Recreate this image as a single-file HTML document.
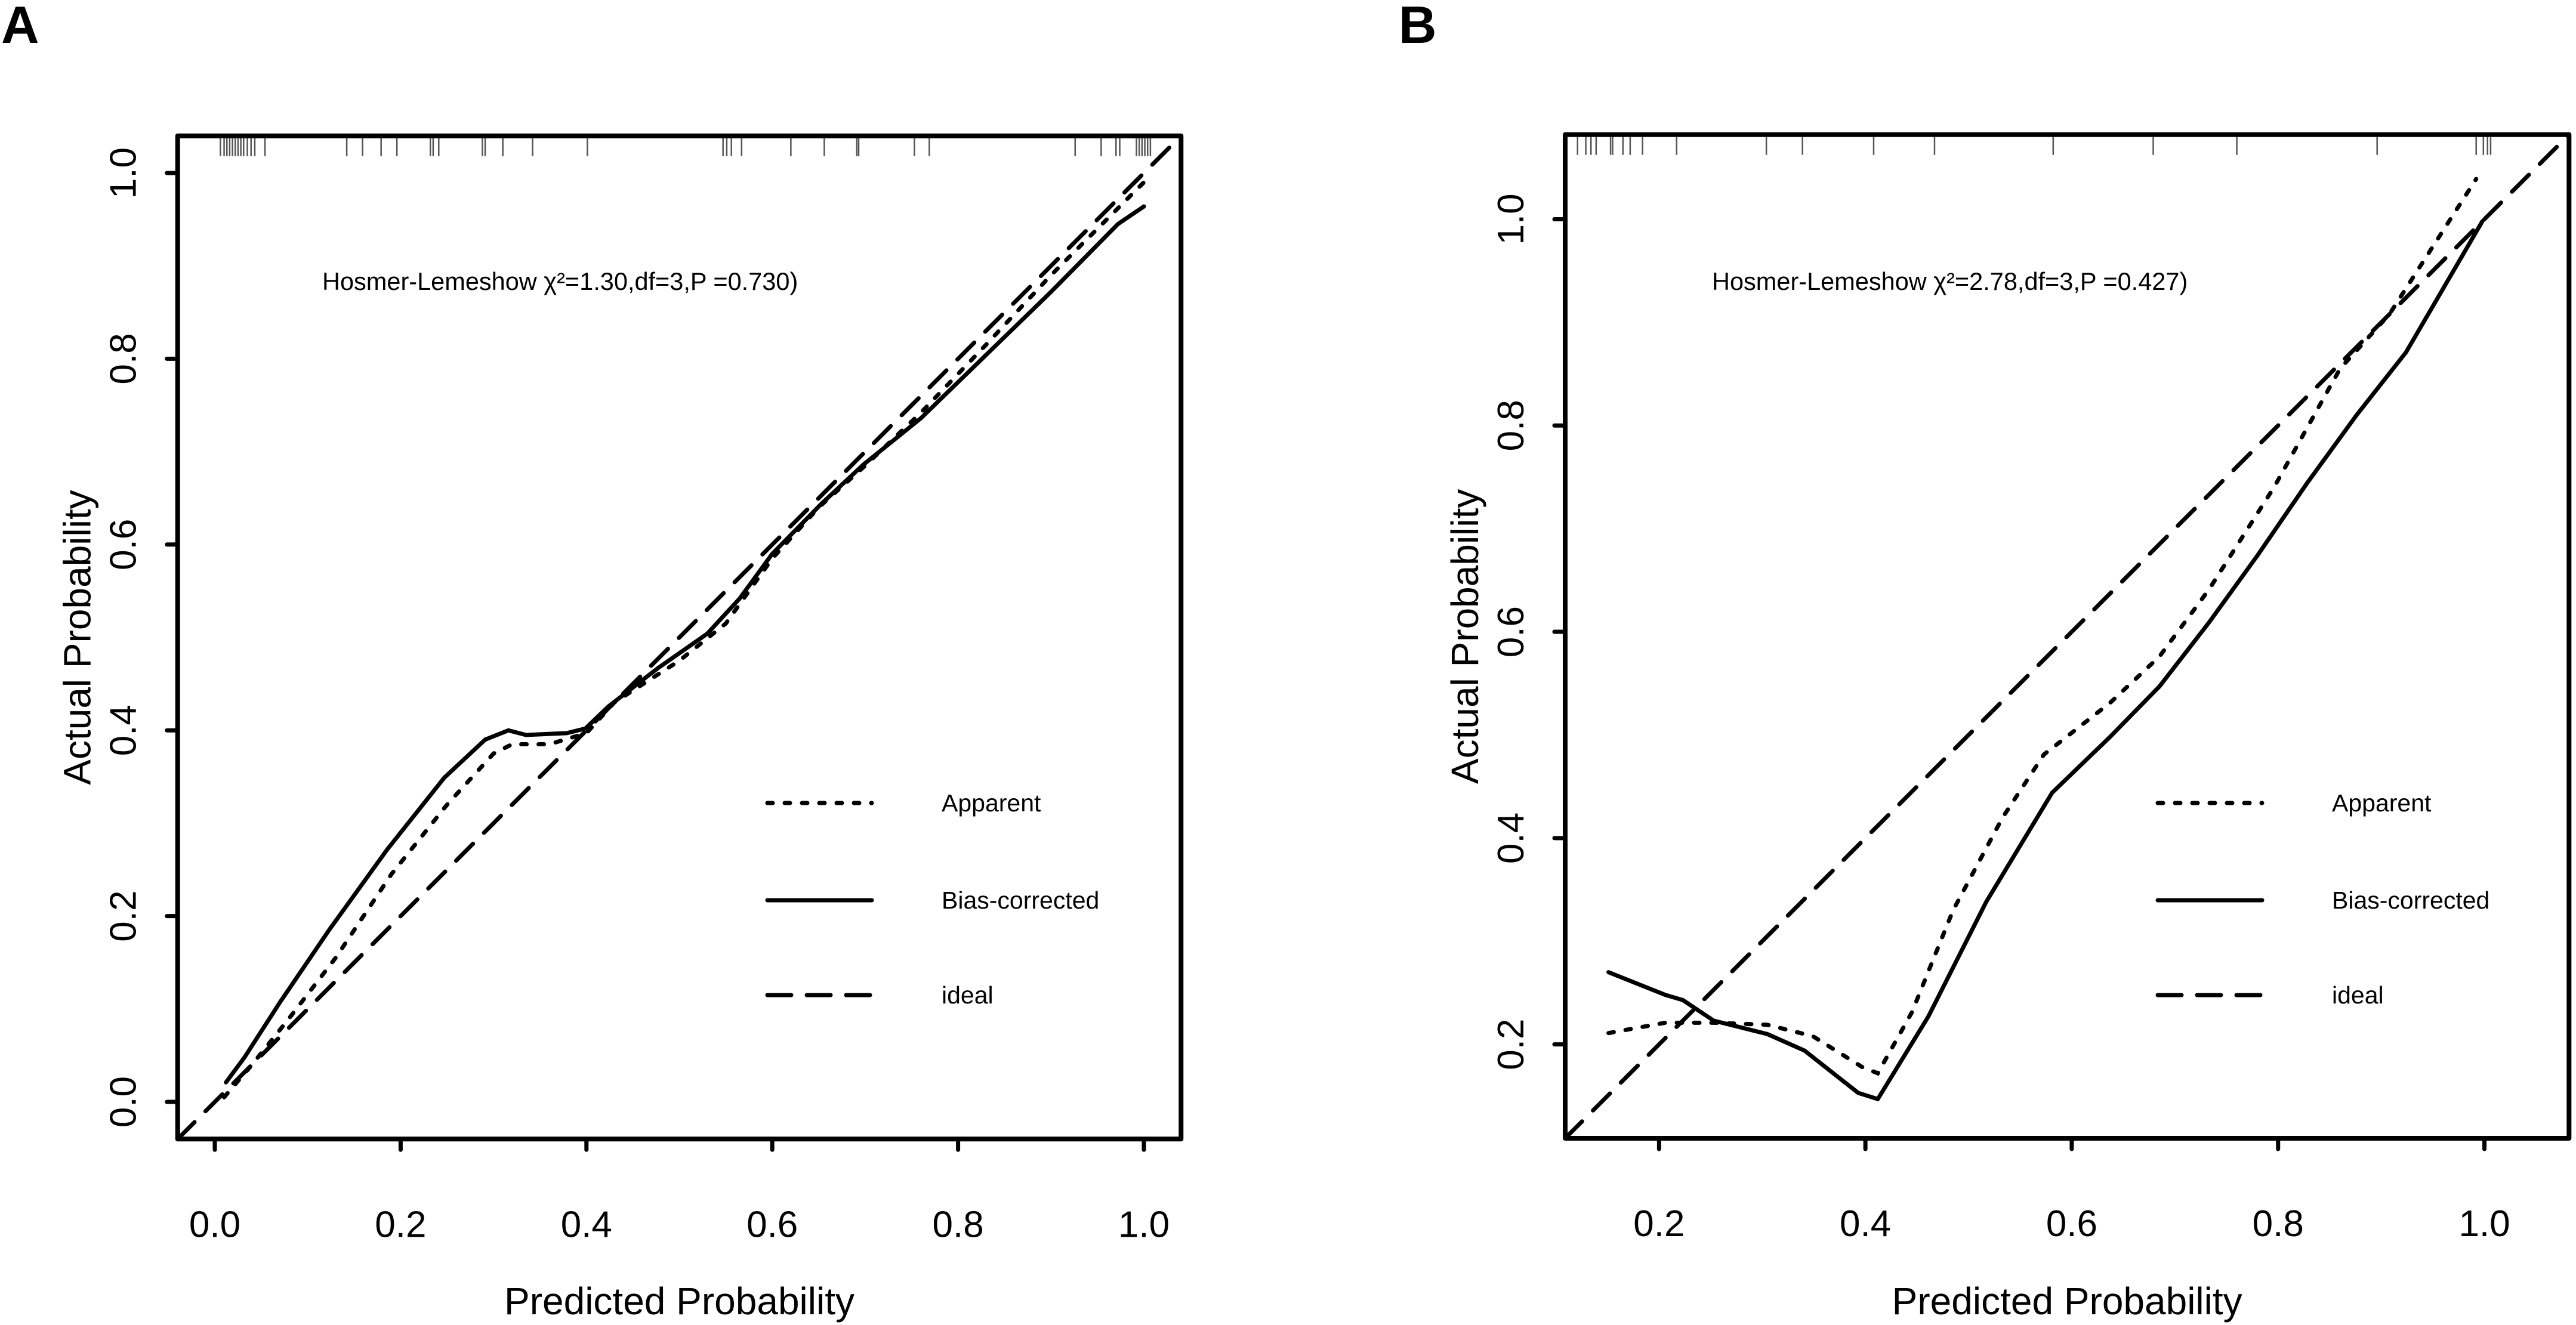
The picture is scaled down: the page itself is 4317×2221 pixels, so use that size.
<!DOCTYPE html>
<html><head><meta charset="utf-8"><style>
html,body{margin:0;padding:0;background:#fff;}
svg{display:block;font-family:"Liberation Sans",sans-serif;}
</style></head><body>
<svg id="fig" xmlns="http://www.w3.org/2000/svg" width="4317" height="2221" viewBox="0 0 4317 2221">
<text x="2" y="72" font-size="88" font-weight="bold">A</text>
<text x="2344" y="72" font-size="88" font-weight="bold">B</text>
<g id="panelA"></g>
<g id="panelB"></g>
</svg>
<script>
// Panel A data
const aTicks = [0.0, 0.2, 0.4, 0.6, 0.8, 1.0];
const aTickLabels = ["0.0", "0.2", "0.4", "0.6", "0.8", "1.0"];
const aRug = [0.006,0.01,0.013,0.016,0.019,0.022,0.025,0.028,0.031,0.035,0.039,0.043,0.054,0.142,0.159,0.179,0.196,0.232,0.235,0.241,0.288,0.291,0.310,0.342,0.401,0.547,0.551,0.556,0.567,0.620,0.656,0.691,0.693,0.753,0.769,0.926,0.954,0.970,0.974,0.992,0.995,0.998,1.001,1.004,1.007];
const aBiasX = [0.012,0.032,0.07,0.123,0.185,0.247,0.291,0.316,0.335,0.379,0.399,0.424,0.477,0.53,0.565,0.6,0.653,0.698,0.76,0.83,0.9,0.972,1.0];
const aBiasY = [0.021,0.048,0.107,0.185,0.271,0.349,0.39,0.40,0.395,0.397,0.402,0.426,0.467,0.504,0.542,0.59,0.644,0.686,0.736,0.804,0.872,0.945,0.964];
const aAppX = [0.01,0.04,0.08,0.13,0.19,0.25,0.3,0.32,0.36,0.4,0.43,0.5,0.55,0.6,0.65,0.7,0.76,0.83,0.9,0.97,1.0];
const aAppY = [0.005,0.04,0.09,0.155,0.245,0.32,0.375,0.385,0.385,0.397,0.43,0.475,0.515,0.585,0.64,0.685,0.742,0.815,0.89,0.96,0.99];
const aStat = "Hosmer-Lemeshow χ²=1.30,df=3,P =0.730)";
// Panel B data
const bTicks = [0.2, 0.4, 0.6, 0.8, 1.0];
const bTickLabels = ["0.2", "0.4", "0.6", "0.8", "1.0"];
const bRug = [0.121,0.129,0.134,0.139,0.153,0.155,0.165,0.172,0.184,0.217,0.304,0.339,0.408,0.467,0.582,0.679,0.760,0.896,0.992,0.999,1.003,1.006];
const bBiasX = [0.151,0.206,0.223,0.253,0.305,0.341,0.393,0.412,0.461,0.517,0.581,0.637,0.685,0.733,0.780,0.828,0.876,0.924,0.998];
const bBiasY = [0.270,0.248,0.243,0.223,0.210,0.194,0.153,0.147,0.227,0.338,0.444,0.498,0.547,0.609,0.674,0.744,0.810,0.871,0.998];
const bAppX = [0.151,0.206,0.253,0.305,0.349,0.397,0.412,0.445,0.485,0.533,0.573,0.637,0.685,0.733,0.796,0.860,0.908,0.992];
const bAppY = [0.211,0.221,0.221,0.219,0.208,0.178,0.172,0.231,0.330,0.420,0.481,0.531,0.576,0.641,0.740,0.855,0.908,1.039];
const bStat = "Hosmer-Lemeshow χ²=2.78,df=3,P =0.427)";

const NS = "http://www.w3.org/2000/svg";
function mk(parent, tag, attrs) {
  const e = document.createElementNS(NS, tag);
  for (const k in attrs) e.setAttribute(k, attrs[k]);
  parent.appendChild(e);
  return e;
}

function drawPanel(g, cfg) {
  const sx = v => cfg.x0 + (v - cfg.min) * cfg.scale;
  const sy = v => cfg.yb - (v - cfg.min) * cfg.scale;
  const L = sx(cfg.min), R = sx(cfg.max), T = sy(cfg.max), B = sy(cfg.min);
  const clipId = "clip" + cfg.id;
  const defs = mk(g, "defs", {});
  const cp = mk(defs, "clipPath", {id: clipId});
  mk(cp, "rect", {x: L, y: T, width: R - L, height: B - T});

  cfg.rug.forEach(v => {
    const r = mk(g, "line", {x1: sx(v), x2: sx(v), y1: T, y2: T + 34, stroke: "#555", "stroke-width": 2.5});
    
    
  });

  const plot = mk(g, "g", {"clip-path": "url(#" + clipId + ")"});
  const ideal = mk(plot, "line", {x1: L, y1: B, x2: R, y2: T, stroke: "#000", "stroke-width": 7, "stroke-dasharray": "40 26", "stroke-linecap": "round"});
  
  
  const app = mk(plot, "polyline", {points: cfg.appX.map((x, i) => sx(x) + "," + sy(cfg.appY[i])).join(" "), fill: "none", stroke: "#000", "stroke-width": 7, "stroke-dasharray": "9 20", "stroke-linecap": "round"});
  
  
  const bias = mk(plot, "polyline", {points: cfg.biasX.map((x, i) => sx(x) + "," + sy(cfg.biasY[i])).join(" "), fill: "none", stroke: "#000", "stroke-width": 7, "stroke-linejoin": "round", "stroke-linecap": "round"});
  
  

  const box = mk(g, "rect", {x: L, y: T, width: R - L, height: B - T, fill: "none", stroke: "#000", "stroke-width": 8, "stroke-linejoin": "round"});
  
  

  cfg.ticks.forEach((v, i) => {
    const xt = mk(g, "line", {x1: sx(v), x2: sx(v), y1: B, y2: B + 18, stroke: "#000", "stroke-width": 7, "stroke-linecap": "round"});
    
    
    const xl = mk(g, "text", {x: sx(v), y: B + 164, "font-size": 62, "text-anchor": "middle"});
    xl.textContent = cfg.labels[i];
    
    
    const yt = mk(g, "line", {x1: L, x2: L - 18, y1: sy(v), y2: sy(v), stroke: "#000", "stroke-width": 7, "stroke-linecap": "round"});
    
    
    const yl = mk(g, "text", {x: 0, y: 0, "font-size": 62, "text-anchor": "middle", transform: "translate(" + (L - 70) + "," + sy(v) + ") rotate(-90)"});
    yl.textContent = cfg.labels[i];
    
    
  });

  const xt = mk(g, "text", {x: (L + R) / 2, y: 2203, "font-size": 64, "text-anchor": "middle"});
  xt.textContent = "Predicted Probability";
  
  
  const yt = mk(g, "text", {x: 0, y: 0, "font-size": 64, "text-anchor": "middle", transform: "translate(" + (L - 146) + "," + ((T + B) / 2) + ") rotate(-90)"});
  yt.textContent = "Actual Probability";
  
  

  const st = mk(g, "text", {x: cfg.statX, y: 486, "font-size": 41.5});
  st.textContent = cfg.stat;
  
  

  const items = [["Apparent", "9 20"], ["Bias-corrected", "none"], ["ideal", "40 26"]];
  const ly = [1346, 1509, 1668];
  items.forEach((it, i) => {
    const ln = mk(g, "line", {x1: cfg.legX, x2: cfg.legX + 175, y1: ly[i], y2: ly[i], stroke: "#000", "stroke-width": 7, "stroke-dasharray": it[1], "stroke-linecap": "round"});
    
    
    const tx = mk(g, "text", {x: cfg.legX + 292, y: ly[i] + 14, "font-size": 41});
    tx.textContent = it[0];
    
    
  });
}

drawPanel(document.getElementById("panelA"), {id: "A", x0: 360 - 0.04 * 1557, yb: 1847 + 0.04 * 1557, min: -0.04, max: 1.04, scale: 1557,
  ticks: aTicks, labels: aTickLabels, rug: aRug, biasX: aBiasX, biasY: aBiasY, appX: aAppX, appY: aAppY, stat: aStat, statX: 540, legX: 1286});
drawPanel(document.getElementById("panelB"), {id: "B", x0: 2623, yb: 1908, min: 0.109, max: 1.082, scale: 1729,
  ticks: bTicks, labels: bTickLabels, rug: bRug, biasX: bBiasX, biasY: bBiasY, appX: bAppX, appY: bAppY, stat: bStat, statX: 2869, legX: 3616});
</script>
</body></html>
